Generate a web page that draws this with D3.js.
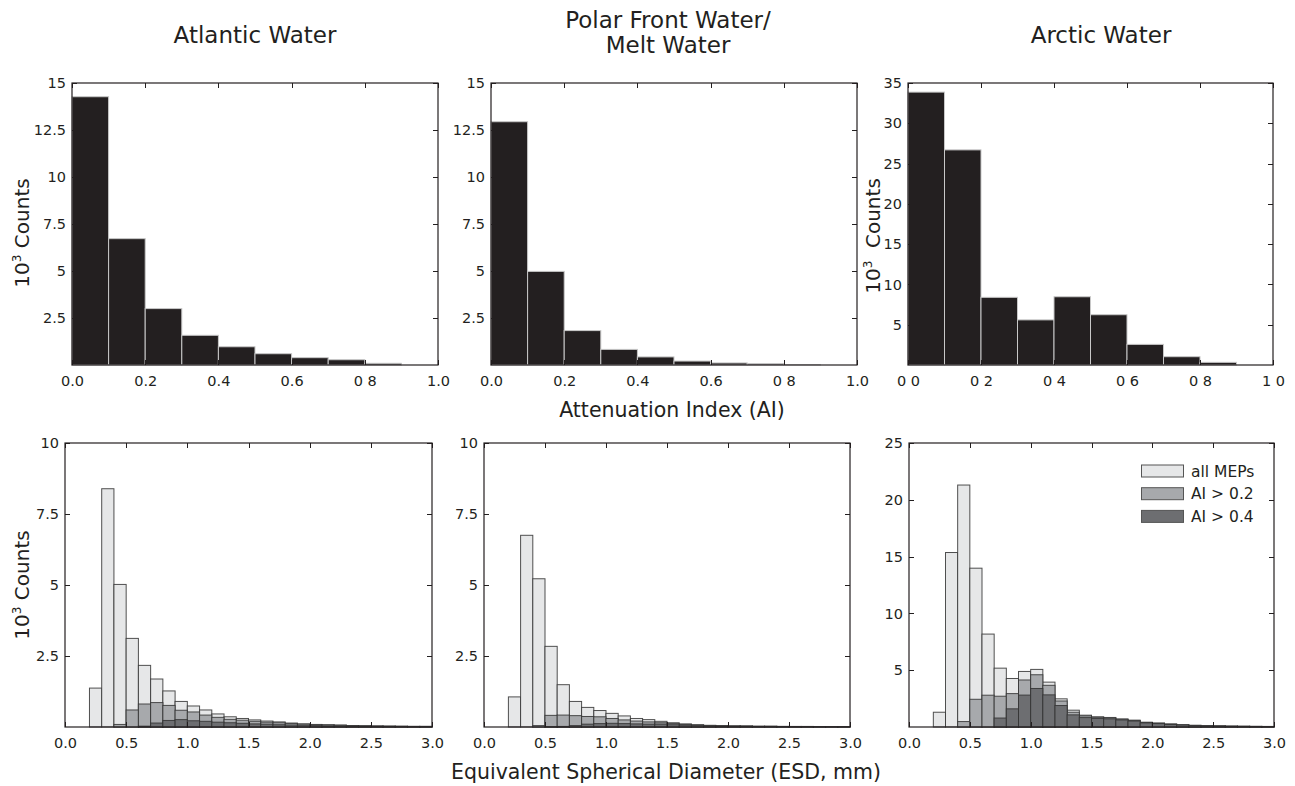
<!DOCTYPE html>
<html>
<head>
<meta charset="utf-8">
<script src="https://cdn.jsdelivr.net/npm/d3@7"></script>
<style>
  body { margin: 0; background: #fff; }
  svg { display: block; font-family: "DejaVu Sans", sans-serif; }
</style>
</head>
<body>
<svg id="chart" width="1295" height="786"></svg>
<script>
// ---------- DATA ----------
const panelTitles = ["Atlantic Water", "Polar Front Water/", "Melt Water", "Arctic Water"];

// Attenuation index histogram (bin starts, width 0.1), 10^3 counts
const aiBinStarts = [0.0, 0.1, 0.2, 0.3, 0.4, 0.5, 0.6, 0.7, 0.8, 0.9];
const aiAtlantic = [14.27, 6.72, 3.00, 1.58, 0.97, 0.60, 0.39, 0.28, 0.09, 0];
const aiPolar    = [12.94, 4.98, 1.83, 0.83, 0.43, 0.21, 0.11, 0.07, 0.02, 0];
const aiArctic   = [33.87, 26.70, 8.40, 5.60, 8.47, 6.24, 2.56, 1.03, 0.33, 0];

// ESD histogram (bin starts, width 0.1 mm), 10^3 counts
const esdBinStarts = [0.0,0.1,0.2,0.3,0.4,0.5,0.6,0.7,0.8,0.9,1.0,1.1,1.2,1.3,1.4,1.5,1.6,1.7,1.8,1.9,2.0,2.1,2.2,2.3,2.4,2.5,2.6,2.7,2.8,2.9];
const esdAtlanticAll = [0,0,1.37,8.39,5.02,3.12,2.17,1.69,1.27,0.90,0.74,0.60,0.46,0.36,0.30,0.25,0.21,0.18,0.14,0.11,0.09,0.08,0.07,0.05,0.04,0.04,0.03,0.03,0.02,0.02];
const esdAtlanticAI2 = [0,0,0,0,0.09,0.60,0.81,0.86,0.76,0.59,0.53,0.42,0.34,0.27,0.24,0.20,0.17,0.15,0.12,0.10,0.08,0.07,0.06,0.05,0.04,0.03,0.03,0.02,0.02,0.02];
const esdAtlanticAI4 = [0,0,0,0,0,0,0.03,0.14,0.23,0.26,0.22,0.20,0.17,0.15,0.13,0.11,0.10,0.08,0.07,0.06,0.05,0.04,0.04,0.03,0.03,0.02,0.02,0.02,0.02,0.02];

const esdPolarAll = [0,0,1.06,6.75,5.22,2.84,1.49,0.90,0.69,0.58,0.48,0.39,0.30,0.26,0.20,0.15,0.11,0.08,0.06,0.05,0.04,0.04,0.03,0.03,0.02,0.02,0.02,0.01,0.01,0.01];
const esdPolarAI2 = [0,0,0,0,0.05,0.41,0.42,0.40,0.37,0.36,0.30,0.25,0.21,0.18,0.15,0.12,0.09,0.07,0.05,0.04,0.03,0.03,0.02,0.02,0.02,0.01,0.01,0.01,0.01,0.01];
const esdPolarAI4 = [0,0,0,0,0,0.01,0.02,0.05,0.10,0.12,0.13,0.12,0.11,0.10,0.10,0.08,0.06,0.05,0.04,0.03,0.03,0.02,0.02,0.02,0.01,0.01,0.01,0.01,0.01,0.01];

const esdArcticAll = [0,0,1.30,15.36,21.30,13.98,8.18,5.18,4.27,4.89,5.07,3.95,2.48,1.48,1.04,0.90,0.84,0.71,0.60,0.42,0.35,0.27,0.20,0.15,0.12,0.10,0.08,0.07,0.06,0.05];
const esdArcticAI2 = [0,0,0,0,0.48,2.44,2.80,2.71,2.94,4.14,4.60,3.67,2.29,1.30,0.98,0.85,0.80,0.68,0.58,0.40,0.33,0.25,0.18,0.14,0.11,0.09,0.07,0.06,0.05,0.04];
const esdArcticAI4 = [0,0,0,0,0,0,0,0.79,1.60,2.81,3.39,2.83,1.89,1.07,0.83,0.75,0.72,0.62,0.52,0.36,0.30,0.22,0.17,0.13,0.10,0.08,0.06,0.05,0.04,0.03];

const seriesNames = ["all MEPs", "AI > 0.2", "AI > 0.4"];

// tick labels
const aiTickValues = [0, 0.2, 0.4, 0.6, 0.8, 1.0];
const aiTickLabelsA = ["0.0", "0.2", "0.4", "0.6", "0 8", "1.0"];
const aiTickLabelsC = ["0 0", "0 2", "0 4", "0 6", "0 8", "1 0"];
const esdTickValues = [0, 0.5, 1.0, 1.5, 2.0, 2.5, 3.0];
const esdTickLabels = ["0.0", "0.5", "1.0", "1.5", "2.0", "2.5", "3.0"];
const yTicksTopSmall = [2.5, 5, 7.5, 10, 12.5, 15];
const yTicksTopLabels = ["2.5", "5", "7.5", "10", "12.5", "15"];
const yTicksTopLarge = [5, 10, 15, 20, 25, 30, 35];
const yTicksBotSmall = [2.5, 5, 7.5, 10];
const yTicksBotSmallLabels = ["2.5", "5", "7.5", "10"];
const yTicksBotLarge = [5, 10, 15, 20, 25];

// ---------- STYLE ----------
const ink = "#231f20";
const fills = ["#e6e7e8", "#a7a9ac", "#6d6e71"];
const tickFont = "14.5px";

const svg = d3.select("#chart");

function frame(g, x, y, xTicks, xLabels, yTicks, yLabels) {
  const [x0, x1] = x.range();
  const [y0, y1] = y.range(); // y0 bottom, y1 top
  const tl = 5;
  const xa = d3.axisBottom(x).tickValues(xTicks).tickSize(0)
    .tickFormat((d, i) => xLabels[i]).tickPadding(11);
  const gx = g.append("g").attr("transform", `translate(0,${y0})`).call(xa);
  gx.select(".domain").remove();
  gx.selectAll("text").attr("fill", ink).style("font-size", tickFont).style("font-family", "DejaVu Sans");
  const ya = d3.axisLeft(y).tickValues(yTicks).tickSize(0)
    .tickFormat((d, i) => yLabels[i]).tickPadding(6);
  const gy = g.append("g").attr("transform", `translate(${x0},0)`).call(ya);
  gy.select(".domain").remove();
  gy.selectAll("text").attr("fill", ink).style("font-size", tickFont).style("font-family", "DejaVu Sans");

  const t = g.append("g").attr("stroke", ink).attr("stroke-width", 1);
  xTicks.forEach(v => {
    const px = Math.round(x(v)) + 0.5;
    t.append("line").attr("x1", px).attr("x2", px).attr("y1", y1).attr("y2", y1 + tl);
    t.append("line").attr("x1", px).attr("x2", px).attr("y1", y0).attr("y2", y0 - tl);
  });
  yTicks.forEach(v => {
    const py = Math.round(y(v)) + 0.5;
    t.append("line").attr("x1", x0).attr("x2", x0 + tl).attr("y1", py).attr("y2", py);
    t.append("line").attr("x1", x1).attr("x2", x1 - tl).attr("y1", py).attr("y2", py);
  });
  g.append("rect").attr("x", x0).attr("y", y1).attr("width", x1 - x0).attr("height", y0 - y1)
    .attr("fill", "none").attr("stroke", ink).attr("stroke-width", 1.2);
}

function yLabel(x, y, extraSpace) {
  const t = svg.append("text").attr("transform", `translate(${x},${y}) rotate(-90)`)
    .attr("text-anchor", "middle").attr("fill", ink).style("font-size", "20px");
  t.append("tspan").text("10");
  t.append("tspan").attr("dy", -8).style("font-size", "12px").text("3");
  t.append("tspan").attr("dy", 8).text(extraSpace ? "\u00a0 Counts" : " Counts");
}

// ---------- TOP ROW: AI histograms ----------
const topPanels = [
  { x0: 72, x1: 438, data: aiAtlantic, ymax: 15, yt: yTicksTopSmall, yl: yTicksTopLabels, xl: aiTickLabelsA },
  { x0: 491, x1: 857, data: aiPolar, ymax: 15, yt: yTicksTopSmall, yl: yTicksTopLabels, xl: aiTickLabelsA },
  { x0: 908, x1: 1273, data: aiArctic, ymax: 35, yt: yTicksTopLarge, yl: yTicksTopLarge.map(String), xl: aiTickLabelsC }
];
topPanels.forEach(p => {
  const g = svg.append("g");
  const x = d3.scaleLinear().domain([0, 1]).range([p.x0, p.x1]);
  const y = d3.scaleLinear().domain([0, p.ymax]).range([365, 83]);
  g.selectAll("rect.bar").data(aiBinStarts.map((s, i) => ({ s, v: p.data[i] })).filter(d => d.v > 0))
    .enter().append("rect").attr("class", "bar")
    .attr("x", d => x(d.s)).attr("width", d => x(d.s + 0.1) - x(d.s))
    .attr("y", d => y(d.v)).attr("height", d => y(0) - y(d.v))
    .attr("fill", ink).attr("stroke", "#c8c8c8").attr("stroke-width", 1);
  frame(g, x, y, aiTickValues, p.xl, p.yt, p.yl);
});

// ---------- BOTTOM ROW: ESD histograms ----------
const botPanels = [
  { x0: 65, x1: 432, series: [esdAtlanticAll, esdAtlanticAI2, esdAtlanticAI4], ymax: 10, yt: yTicksBotSmall, yl: yTicksBotSmallLabels },
  { x0: 484, x1: 850, series: [esdPolarAll, esdPolarAI2, esdPolarAI4], ymax: 10, yt: yTicksBotSmall, yl: yTicksBotSmallLabels },
  { x0: 909, x1: 1274, series: [esdArcticAll, esdArcticAI2, esdArcticAI4], ymax: 25, yt: yTicksBotLarge, yl: yTicksBotLarge.map(String), legend: true }
];
botPanels.forEach(p => {
  const g = svg.append("g");
  const x = d3.scaleLinear().domain([0, 3]).range([p.x0, p.x1]);
  const y = d3.scaleLinear().domain([0, p.ymax]).range([727, 443]);
  p.series.forEach((vals, si) => {
    g.append("g").selectAll("rect")
      .data(esdBinStarts.map((s, i) => ({ s, v: vals[i] })).filter(d => d.v > 0))
      .enter().append("rect")
      .attr("x", d => x(d.s)).attr("width", d => x(d.s + 0.1) - x(d.s))
      .attr("y", d => y(d.v)).attr("height", d => y(0) - y(d.v))
      .attr("fill", fills[si]).attr("stroke", "#333").attr("stroke-width", 1)
      .attr("stroke-opacity", 0.85);
  });
  frame(g, x, y, esdTickValues, esdTickLabels, p.yt, p.yl);
  if (p.legend) {
    const lg = g.append("g");
    seriesNames.forEach((n, i) => {
      const yy = 465 + i * 22.7;
      lg.append("rect").attr("x", 1141.5).attr("y", yy).attr("width", 42).attr("height", 12)
        .attr("fill", fills[i]).attr("stroke", "#555").attr("stroke-width", 1);
      lg.append("text").attr("x", 1191).attr("y", yy + 6).attr("dy", "0.36em")
        .attr("fill", ink).style("font-size", "15.5px").text(n);
    });
  }
});

// ---------- TITLES & AXIS LABELS ----------
const titleSize = "23px";
[[panelTitles[0], 255, 35], [panelTitles[1], 668, 20], [panelTitles[2], 668, 45], [panelTitles[3], 1101, 35]]
  .forEach(([txt, tx, ty]) => {
    svg.append("text").attr("x", tx).attr("y", ty).attr("dy", "0.36em").attr("text-anchor", "middle")
      .attr("fill", ink).style("font-size", titleSize).text(txt);
  });

svg.append("text").attr("x", 672).attr("y", 410).attr("dy", "0.36em").attr("text-anchor", "middle")
  .attr("fill", ink).style("font-size", "20.5px").text("Attenuation Index (AI)");
svg.append("text").attr("x", 666).attr("y", 772).attr("dy", "0.36em").attr("text-anchor", "middle")
  .attr("fill", ink).style("font-size", "20.5px").text("Equivalent Spherical Diameter (ESD, mm)");

yLabel(29, 233, false);
yLabel(880, 236, true);
yLabel(29, 585, false);
</script>
</body>
</html>
